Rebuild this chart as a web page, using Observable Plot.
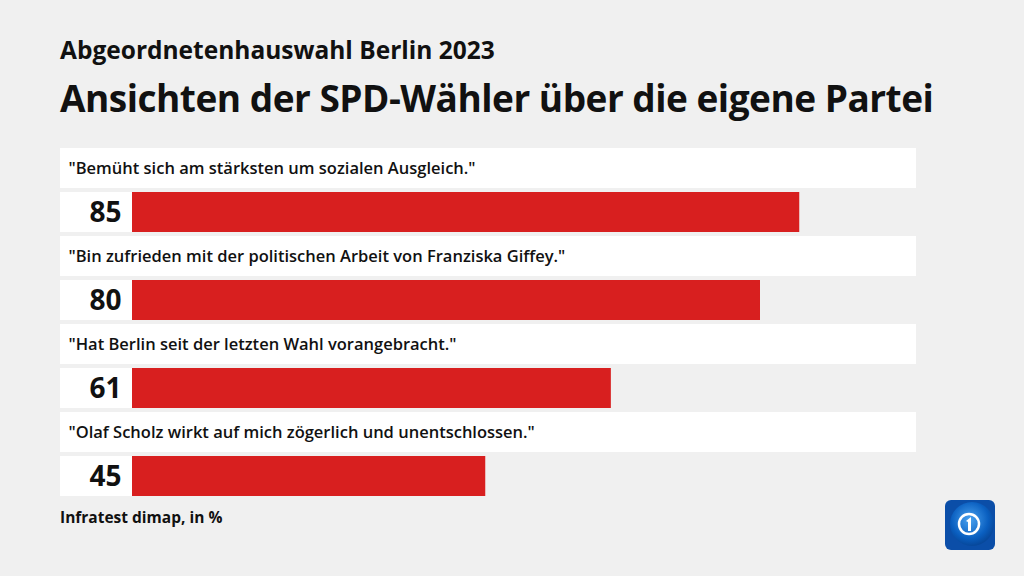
<!DOCTYPE html>
<html>
<head>
<meta charset="utf-8">
<script src="https://cdn.jsdelivr.net/npm/d3@7"></script>
<script src="https://cdn.jsdelivr.net/npm/@observablehq/plot@0.6"></script>
<style>
  html, body { margin: 0; padding: 0; background: #f0f0f0; }
  body { width: 1024px; height: 576px; position: relative; overflow: hidden; font-family: "Open Sans", "Noto Sans", sans-serif; color: #111; }
  .t { position: absolute; left: 60px; white-space: nowrap; }
  #sup { top: 33px; font-size: 24.5px; font-weight: 700; letter-spacing: 0px; }
  #title { top: 72px; font-size: 37px; font-weight: 700; letter-spacing: -0.5px; }
  #foot { top: 506px; font-size: 15.5px; font-weight: 700; }
  #chart { position: absolute; left: 0; top: 0; }
  #logo { position: absolute; left: 945px; top: 500px; }
</style>
</head>
<body>
<div class="t" id="sup">Abgeordnetenhauswahl Berlin 2023</div>
<div class="t" id="title">Ansichten der SPD-Wähler über die eigene Partei</div>
<div id="chart"></div>
<div class="t" id="foot">Infratest dimap, in %</div>
<svg id="logo" width="50" height="50" viewBox="0 0 50 50">
  <defs>
    <radialGradient id="g" cx="0.45" cy="0.4" r="0.7">
      <stop offset="0" stop-color="#4aa3f0"/>
      <stop offset="0.6" stop-color="#0a5fc0"/>
      <stop offset="1" stop-color="#053a85"/>
    </radialGradient>
  </defs>
  <rect x="0" y="0" width="50" height="50" rx="6" fill="#0b4ea8"/>
  <circle cx="27" cy="24" r="22" fill="url(#g)"/>
  <circle cx="24" cy="24" r="10" fill="none" stroke="#fff" stroke-width="2.5"/>
  <path d="M21 21 L26 17 L26 31 L23 31 L23 22 Z" fill="#fff"/>
</svg>
<script>
const statements = [
  "\"Bemüht sich am stärksten um sozialen Ausgleich.\"",
  "\"Bin zufrieden mit der politischen Arbeit von Franziska Giffey.\"",
  "\"Hat Berlin seit der letzten Wahl vorangebracht.\"",
  "\"Olaf Scholz wirkt auf mich zögerlich und unentschlossen.\""
];
const values = [85, 80, 61, 45];
const xMax = 100;

const data = statements.map((s, i) => ({label: s, value: values[i]}));

const chart = Plot.plot({
  width: 1024,
  height: 576,
  marginTop: 148,
  marginBottom: 76,
  marginLeft: 132,
  marginRight: 107,
  style: {background: "transparent", fontFamily: "'Open Sans', 'Noto Sans', sans-serif", overflow: "visible"},
  x: {domain: [0, xMax], axis: null},
  y: {domain: statements, axis: null, padding: 0},
  marks: [
    Plot.barX(data, {x1: 0, x2: xMax, y: "label", fill: "white", insetLeft: -72, insetRight: 1, insetTop: 0, insetBottom: 48}),
    Plot.barX(data, {x1: 0, x2: 0, y: "label", fill: "white", insetLeft: -72, insetRight: 0, insetTop: 44, insetBottom: 4}),
    Plot.barX(data, {x: "value", y: "label", fill: "#d81f1f", insetTop: 44, insetBottom: 4}),
    Plot.text(data, {x: 0, y: "label", text: "label", textAnchor: "start", dx: -64, dy: -24, fontSize: 16.5, fontWeight: 600, fill: "#111", style: "letter-spacing:-0.25px"}),
    Plot.text(data, {x: 0, y: "label", text: d => String(d.value), textAnchor: "end", dx: -11, dy: 21, fontSize: 28, fontWeight: 700, fill: "#111"})
  ]
});
document.getElementById("chart").appendChild(chart);
</script>
</body>
</html>
